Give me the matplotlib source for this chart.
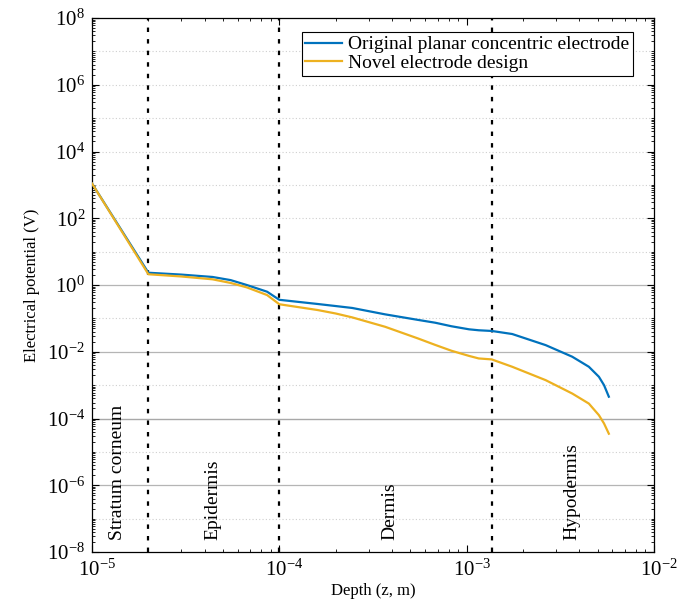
import matplotlib
matplotlib.use("Agg")
import matplotlib.pyplot as plt
import matplotlib.transforms as mtransforms
from matplotlib.ticker import FixedLocator, NullFormatter, FuncFormatter
import numpy as np

# ---- data ----
depth = [1e-5, 2e-5, 3e-5, 4.4e-5, 5.5e-5, 6.7e-5, 8.6e-5, 1.0e-4, 1.6e-4,
         2.0e-4, 2.45e-4, 3.67e-4, 5.5e-4, 6.8e-4, 8.3e-4, 1.03e-3, 1.16e-3,
         1.36e-3, 1.75e-3, 2.64e-3, 3.66e-3, 4.49e-3, 5.08e-3, 5.41e-3, 5.74e-3]
original = [1.1e3, 2.33, 2.05, 1.74, 1.4, 1.0, 0.63, 0.36, 0.27,
            0.234, 0.205, 0.132, 0.09, 0.074, 0.058, 0.047, 0.044,
            0.042, 0.034, 0.0158, 7.1e-3, 3.55e-3, 1.78e-3, 1.0e-3, 4.5e-4]
novel = [1.1e3, 2.1, 1.8, 1.48, 1.15, 0.85, 0.5, 0.265, 0.178,
         0.14, 0.107, 0.056, 0.025, 0.016, 0.0107, 7.5e-3, 6.3e-3,
         5.9e-3, 3.55e-3, 1.41e-3, 5.6e-4, 2.8e-4, 1.26e-4, 7.1e-5, 3.5e-5]
boundaries = [2e-5, 1e-4, 1.36e-3]
layers = ["Stratum corneum", "Epidermis", "Dermis", "Hypodermis"]
layer_x = [1.36e-5, 4.4e-5, 3.9e-4, 3.64e-3]
series_names = ["Original planar concentric electrode", "Novel electrode design"]

plt.rcParams['font.family'] = ['Liberation Serif', 'DejaVu Serif']
plt.rcParams['mathtext.fontset'] = 'custom'
plt.rcParams['mathtext.rm'] = 'Liberation Serif'
plt.rcParams['mathtext.it'] = 'Liberation Serif:italic'

fig = plt.figure(figsize=(6.77, 6.07), dpi=100)
ax = fig.add_axes([92/677, 1-552/607, (654-92)/677, (552-18)/607])
ax.set_xscale('log')
ax.set_yscale('log')
ax.set_xlim(1e-5, 1e-2)
ax.set_ylim(1e-8, 1e8)

# horizontal grid lines
for e in range(-7, 8):
    if e in (0, -2, -6):
        ax.axhline(10.0**e, color='#b5b5b5', lw=0.9, zorder=0.5)
    elif e == -4:
        ax.axhline(10.0**e, color='#a8a8a8', lw=1.0, zorder=0.5)
    else:
        ax.axhline(10.0**e, color='#cfcfcf', lw=0.8, ls=(0, (1, 2)), zorder=0.5)

for b in boundaries:
    ax.axvline(b, color='black', lw=1.6, ls=(0, (2, 3.2)), zorder=1)

ax.plot(depth, original, color='#0072BD', lw=1.6, label=series_names[0], zorder=3)
ax.plot(depth, novel, color='#EDB120', lw=1.6, label=series_names[1], zorder=3)

for t, x in zip(layers, layer_x):
    ax.text(x, 2.3e-8, t, rotation=90, ha='center', va='bottom', fontsize=14)

# ticks
def logfmt(v, pos):
    e = int(round(np.log10(v)))
    return r'$\mathregular{10^{%d}}$' % e

ax.yaxis.set_major_locator(FixedLocator([10.0**e for e in range(-8, 9, 2)]))
yminor = []
for e in range(-8, 8):
    for s in range(1, 10):
        if not (s == 1 and e % 2 == 0):
            yminor.append(s * 10.0**e)
ax.yaxis.set_minor_locator(FixedLocator(yminor))
ax.xaxis.set_major_locator(FixedLocator([1e-5, 1e-4, 1e-3, 1e-2]))
xminor = [s * 10.0**e for e in range(-5, -2) for s in range(2, 10)]
ax.xaxis.set_minor_locator(FixedLocator(xminor))
ax.xaxis.set_minor_formatter(NullFormatter())
ax.yaxis.set_minor_formatter(NullFormatter())
ax.xaxis.set_major_formatter(FuncFormatter(logfmt))
ax.yaxis.set_major_formatter(FuncFormatter(logfmt))

ax.tick_params(which='both', direction='in', top=True, right=True, colors='black')
ax.tick_params(which='major', length=5, width=0.8, labelsize=15)
ax.tick_params(axis='x', which='major', pad=5)
ax.tick_params(axis='y', which='major', pad=5)
ax.tick_params(which='minor', length=2.5, width=0.6)
for sp in ax.spines.values():
    sp.set_linewidth(0.9)
    sp.set_color('black')

ax.set_xlabel('Depth (z, m)', fontsize=12, labelpad=1)
ax.set_ylabel('Electrical potential (V)', fontsize=12, labelpad=5)

leg = ax.legend(loc='upper right', bbox_to_anchor=(0.963, 0.974), fontsize=14,
                frameon=True, fancybox=False, edgecolor='black', framealpha=1,
                borderpad=0.2, handlelength=1.9, handletextpad=0.3, labelspacing=0.05,
                borderaxespad=0.0)
leg.get_frame().set_linewidth(0.8)

# shift x tick labels slightly right, as in the reference
fig.canvas.draw()
offset = mtransforms.ScaledTranslation(5/100, -1/100, fig.dpi_scale_trans)
for lab in ax.get_xticklabels():
    lab.set_transform(lab.get_transform() + offset)

fig.savefig('out.png', dpi=100)
